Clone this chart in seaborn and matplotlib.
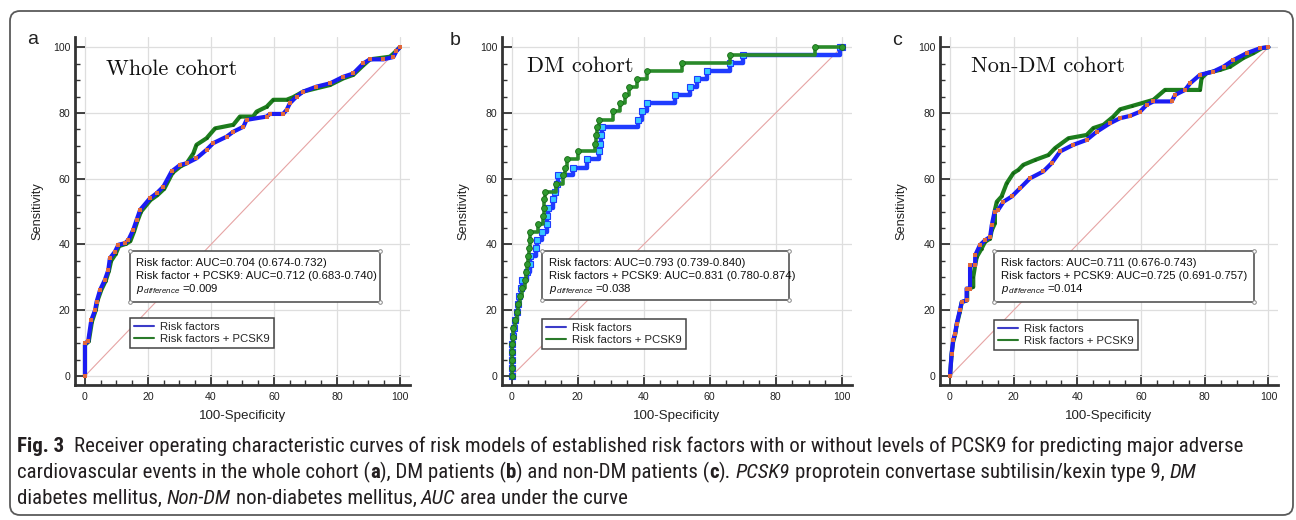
import matplotlib
matplotlib.use("Agg")
import numpy as np
import pandas as pd
import matplotlib.pyplot as plt
import seaborn as sns
from matplotlib import font_manager as fm
from matplotlib.lines import Line2D
from matplotlib.patches import Rectangle, FancyBboxPatch
from matplotlib.ticker import MultipleLocator

# ---------------- data ----------------
panel_letters = ["a", "b", "c"]
panel_titles = ["Whole cohort", "DM cohort", "Non-DM cohort"]
series_names = ["Risk factors", "Risk factors + PCSK9"]
tick_values = [0, 20, 40, 60, 80, 100]
diag_x = [0, 100]
diag_y = [0, 100]

# Panel a (whole cohort)
a_rf_fpr = [0, 0, 1.0, 2.0, 3.2, 3.7, 4.8, 6.3, 7.4, 7.9, 9.5, 10.6, 12.7, 13.8, 15.3, 16.4, 17.5,
            20.6, 22.8, 24.9, 27.5, 30.2, 32.3, 35.4, 38.6, 40.7, 45.0, 47.1, 50.3, 51.3, 57.7, 58.7,
            62.9, 64.0, 65.1, 67.2, 69.3, 73.5, 77.8, 82.0, 85.2, 88.4, 90.5, 94.7, 97.9, 98.9, 100]
a_rf_tpr = [0, 10.0, 10.5, 17.0, 20.0, 22.6, 26.2, 29.2, 32.2, 35.8, 37.8, 39.9, 40.4, 41.4, 44.4, 47.5, 50.5,
            54.0, 55.6, 57.6, 62.2, 64.2, 64.7, 66.2, 68.8, 70.8, 72.8, 74.3, 75.8, 77.9, 78.9, 79.7,
            79.7, 80.9, 83.0, 85.0, 86.5, 88.0, 89.0, 91.0, 92.0, 95.1, 96.3, 96.3, 97.0, 98.8, 100]
a_pk_fpr = [0, 0, 1.2, 2.2, 3.4, 4.0, 5.2, 6.6, 7.6, 8.3, 9.8, 10.8, 13.0, 14.4, 15.6, 16.6, 17.8,
            20.8, 23.0, 25.2, 27.8, 30.4, 32.3, 34.4, 35.4, 38.6, 41.3, 47.1, 49.2, 53.4, 54.5, 57.7,
            59.8, 64.0, 66.1, 69.3, 73.5, 77.8, 82.0, 85.2, 88.4, 90.5, 96.8, 97.9, 100]
a_pk_tpr = [0, 9.5, 10.5, 16.5, 20.0, 23.0, 26.2, 29.0, 32.0, 35.0, 37.2, 39.5, 40.2, 41.0, 44.0, 47.0, 50.0,
            53.5, 55.0, 57.0, 61.8, 63.8, 64.7, 67.7, 70.3, 72.3, 75.3, 76.4, 78.9, 78.9, 80.4, 81.9,
            84.0, 84.0, 84.8, 86.5, 87.5, 88.5, 90.5, 91.6, 94.5, 96.3, 97.1, 98.0, 100]

# Panel b (DM cohort) - step points (x where curve rises to y)
b_rf_fpr = [0, 0, 0, 0, 0, 0.5, 0.8, 1.0, 1.5, 2.0, 2.2, 2.7, 3.0, 4.5, 5.4, 5.6, 7.4, 7.6, 9.1, 10.6,
            10.6, 10.9, 12.6, 13.1, 13.6, 14.1, 18.7, 22.7, 26.3, 26.8, 27.0, 27.3, 38.4, 39.4, 40.9,
            49.5, 54.0, 56.1, 59.1, 66.2, 70.2, 99.5, 100]
b_rf_tpr = [0, 2.4, 4.9, 7.3, 9.8, 12.2, 14.6, 17.1, 19.5, 22.0, 24.4, 26.8, 29.3, 31.7, 34.1, 36.6, 39.0,
            41.5, 43.9, 46.3, 48.8, 51.2, 53.7, 56.1, 58.5, 61.0, 63.4, 65.9, 68.3, 70.7, 73.2, 75.6,
            78.0, 80.5, 82.9, 85.4, 87.8, 90.2, 92.7, 95.1, 97.6, 100, 100]
b_pk_fpr = [0, 0, 0, 0, 0, 0.5, 0.5, 1.0, 1.5, 2.0, 2.5, 3.0, 4.0, 4.3, 4.7, 5.0, 5.3, 5.6, 5.6, 8.0,
            9.6, 9.8, 9.9, 10.0, 13.4, 15.4, 16.2, 16.7, 20.2, 25.3, 25.6, 25.8, 26.3, 30.8, 32.8, 34.3,
            35.4, 38.0, 41.1, 51.5, 66.2, 91.9, 100]
b_pk_tpr = [0, 2.4, 4.9, 7.3, 9.8, 12.0, 14.6, 17.0, 19.5, 22.0, 24.4, 26.8, 29.3, 31.7, 34.1, 36.6, 39.0,
            41.5, 43.9, 46.3, 48.8, 51.2, 53.7, 56.1, 58.5, 61.0, 63.4, 65.9, 68.3, 70.7, 73.2, 75.6,
            78.0, 80.5, 82.9, 85.4, 87.8, 90.2, 92.7, 95.1, 97.6, 100, 100]

# Panel c (non-DM cohort)
c_rf_fpr = [0, 0.5, 1.0, 1.6, 2.1, 3.1, 3.7, 5.2, 5.2, 6.3, 6.3, 7.9, 7.9, 9.4, 11.0, 12.6, 13.1, 14.0,
            15.1, 16.8, 19.4, 22.0, 25.1, 29.3, 31.9, 34.6, 38.7, 42.9, 46.1, 50.3, 53.4, 56.5, 59.7,
            61.8, 63.9, 69.6, 70.7, 73.8, 75.4, 78.5, 82.7, 85.9, 89.0, 93.2, 97.4, 100]
c_rf_tpr = [0, 6.8, 10.9, 12.9, 15.9, 20.0, 22.5, 23.0, 26.6, 26.6, 33.7, 33.7, 36.7, 39.8, 41.3, 42.3,
            45.8, 50.0, 50.5, 53.0, 54.6, 57.1, 60.1, 62.2, 64.7, 68.3, 70.3, 71.8, 74.3, 76.9, 78.4,
            79.1, 80.4, 82.5, 83.5, 83.5, 85.5, 87.0, 89.0, 91.6, 92.6, 94.1, 96.1, 98.2, 99.7, 100]
c_pk_fpr = [0, 0.5, 1.0, 1.6, 2.1, 3.1, 3.7, 5.4, 5.4, 7.3, 7.3, 7.9, 8.4, 9.9, 11.0, 12.6, 13.1, 14.1,
            14.1, 14.7, 16.2, 17.8, 19.9, 21.5, 23.0, 26.7, 30.9, 33.0, 37.2, 42.9, 45.0, 48.2, 51.3,
            53.4, 57.1, 63.9, 67.5, 78.5, 79.0, 80.6, 84.8, 88.0, 92.1, 95.3, 97.9, 100]
c_pk_tpr = [0, 6.5, 10.5, 12.5, 15.5, 19.5, 22.5, 23.0, 26.3, 27.1, 30.1, 33.7, 36.2, 38.7, 40.8, 41.8,
            44.3, 46.4, 50.5, 53.0, 54.6, 58.6, 61.7, 62.7, 64.2, 65.7, 67.2, 69.3, 72.3, 73.3, 75.4,
            76.4, 78.9, 81.1, 82.1, 84.0, 87.0, 87.0, 90.6, 92.1, 93.1, 94.1, 96.7, 98.2, 99.7, 100]

ann_lines = [
    ["Risk factor: AUC=0.704 (0.674-0.732)", "Risk factor + PCSK9: AUC=0.712 (0.683-0.740)", "0.009"],
    ["Risk factors: AUC=0.793 (0.739-0.840)", "Risk factors + PCSK9: AUC=0.831 (0.780-0.874)", "0.038"],
    ["Risk factors: AUC=0.711 (0.676-0.743)", "Risk factors + PCSK9: AUC=0.725 (0.691-0.757)", "0.014"],
]

caption_lines = [
    [("Fig. 3", "b"), ("  Receiver operating characteristic curves of risk models of established risk factors with or without levels of PCSK9 for predicting major adverse", "n")],
    [("cardiovascular events in the whole cohort (", "n"), ("a", "b"), ("), DM patients (", "n"), ("b", "b"),
     (") and non-DM patients (", "n"), ("c", "b"), ("). ", "n"), ("PCSK9", "i"),
     (" proprotein convertase subtilisin/kexin type 9, ", "n"), ("DM", "i")],
    [("diabetes mellitus, ", "n"), ("Non-DM", "i"), (" non-diabetes mellitus, ", "n"), ("AUC", "i"),
     (" area under the curve", "n")],
]

# ---------------- style ----------------
sns.set_style("ticks")
plt.rcParams["font.family"] = ["Liberation Sans", "DejaVu Sans"]
plt.rcParams["mathtext.fontset"] = "custom"
plt.rcParams["mathtext.rm"] = "Liberation Sans"
plt.rcParams["mathtext.it"] = "Liberation Sans:italic"

W, H = 1296, 520
fig = plt.figure(figsize=(W / 100, H / 100), dpi=100)
fig.patch.set_facecolor("white")

# layout in pixels: (left, top, right, bottom), xlim
panels = [
    dict(box=(75, 37, 410, 385), xlim=(-3.17, 103.2), ann=(130, 251, 380, 302), txt_x=136, leg=(130, 318),
         letter=(27, 44), ylab=43, order="gb"),
    dict(box=(502, 37, 852, 385), xlim=(-2.94, 103.1), ann=(541.7, 251, 789, 300), txt_x=549, leg=(541.7, 319),
         letter=(450, 45), ylab=469, order="bg"),
    dict(box=(940, 37, 1278, 385), xlim=(-3.14, 103.0), ann=(994, 251, 1254, 301.7), txt_x=1001, leg=(994, 320),
         letter=(892, 45), ylab=907, order="gb"),
]
series = [
    (a_rf_fpr, a_rf_tpr, a_pk_fpr, a_pk_tpr),
    (b_rf_fpr, b_rf_tpr, b_pk_fpr, b_pk_tpr),
    (c_rf_fpr, c_rf_tpr, c_pk_fpr, c_pk_tpr),
]
YLIM = (-2.74, 103.1)
BLUE = "#1c1cf2"
GREEN = "#1d7d1d"
SPINE = "#333333"

for i, p in enumerate(panels):
    l, t, r, b = p["box"]
    ax = fig.add_axes([l / W, 1 - b / H, (r - l) / W, (b - t) / H])
    aw, ah = r - l, b - t

    def fx(px):
        return (px - l) / aw

    def fy(py):
        return (b - py) / ah

    ax.set_xlim(*p["xlim"])
    ax.set_ylim(*YLIM)
    ax.grid(True, which="major", color="#dedede", lw=0.9)
    ax.set_axisbelow(True)
    for s in ["top", "right"]:
        ax.spines[s].set_visible(False)
    for s in ["left", "bottom"]:
        ax.spines[s].set_color(SPINE)
        ax.spines[s].set_linewidth(2.0)
    ax.set_xticks(tick_values)
    ax.set_yticks(tick_values)
    ax.xaxis.set_minor_locator(MultipleLocator(5))
    ax.yaxis.set_minor_locator(MultipleLocator(5))
    ax.tick_params(which="major", direction="in", length=7, width=1.3, color=SPINE, labelsize=7.6,
                   labelcolor="#222222")
    ax.tick_params(which="minor", direction="in", length=3.5, width=1.0, color=SPINE)
    ax.tick_params(axis="x", which="major", pad=5)
    ax.tick_params(axis="y", which="major", pad=3.5)

    # diagonal reference
    ax.plot(diag_x, diag_y, color="#e6a4a4", lw=0.8, zorder=2)

    rf_x, rf_y, pk_x, pk_y = series[i]
    df_rf = pd.DataFrame({"fpr": rf_x, "tpr": rf_y})
    df_pk = pd.DataFrame({"fpr": pk_x, "tpr": pk_y})

    if i == 1:
        blue_kw = dict(color="#1f3cff", lw=3.2, marker="s", markersize=4.2, markerfacecolor="#36c8ff",
                       markeredgecolor="#1f3cff", markeredgewidth=0.8, drawstyle="steps-post")
        green_kw = dict(color="#2a8a2a", lw=2.6, marker="o", markersize=4.2, markerfacecolor="#2f9a2f",
                        markeredgecolor="#1a6a1a", markeredgewidth=0.6, drawstyle="steps-post")
    else:
        blue_kw = dict(color=BLUE, lw=3.0, marker="s", markersize=2.2, markerfacecolor="#e0673c",
                       markeredgecolor="#e0673c", markeredgewidth=0.0)
        green_kw = dict(color=GREEN, lw=3.0, marker="o", markersize=1.8, markerfacecolor="#0e5e0e",
                        markeredgecolor="#0e5e0e", markeredgewidth=0.0)

    draws = {"b": (df_rf, blue_kw), "g": (df_pk, green_kw)}
    for k, key in enumerate(p["order"]):
        d, kw = draws[key]
        sns.lineplot(data=d, x="fpr", y="tpr", ax=ax, estimator=None, sort=False, legend=False,
                     zorder=3 + k, **kw)

    ax.set_xlabel("100-Specificity", fontsize=9.6, color="#222222")
    ax.set_ylabel("Sensitivity", fontsize=9.2, color="#222222")
    ax.xaxis.set_label_coords(0.5, fy(410.5))
    ax.yaxis.set_label_coords(fx(p["ylab"]), 0.5)

    # cohort title
    ax.text(fx({0: 106, 1: 527.3, 2: 970.7}[i]), fy({0: 75, 1: 72.5, 2: 72.5}[i]), panel_titles[i],
            transform=ax.transAxes, fontfamily="cmr10", fontsize=16, color="#111111",
            ha="left", va="baseline")

    # annotation box
    x0, y0, x1, y1 = p["ann"]
    ax.add_patch(Rectangle((fx(x0), fy(y1)), fx(x1) - fx(x0), fy(y0) - fy(y1), transform=ax.transAxes,
                           facecolor="white", edgecolor="#555555", lw=1.2, zorder=6, clip_on=False))
    for (cx, cy) in [(x0, y0), (x1, y0), (x0, y1), (x1, y1)]:
        ax.plot([fx(cx)], [fy(cy)], transform=ax.transAxes, marker="o", ms=2.6, mfc="white",
                mec="#888888", mew=0.7, zorder=7, clip_on=False)
    lines = ann_lines[i]
    ax.text(fx(p["txt_x"]), fy(265.5), lines[0], transform=ax.transAxes, fontsize=8.2, color="#111111",
            ha="left", va="baseline", zorder=8)
    ax.text(fx(p["txt_x"]), fy(278.5), lines[1], transform=ax.transAxes, fontsize=8.2, color="#111111",
            ha="left", va="baseline", zorder=8)
    ax.text(fx(p["txt_x"]), fy(292.5), r"$p_{\,difference}$ =" + lines[2], transform=ax.transAxes,
            fontsize=8.2, color="#111111", ha="left", va="baseline", zorder=8)

    # legend
    handles = [Line2D([0], [0], color="#3c3cc8", lw=1.5), Line2D([0], [0], color="#2a7a2a", lw=1.5)]
    lg = ax.legend(handles, series_names, loc="upper left", bbox_to_anchor=(fx(p["leg"][0]), fy(p["leg"][1])),
                   borderaxespad=0, frameon=True, fancybox=False, edgecolor="#444444", framealpha=1,
                   fontsize=8.2, handlelength=1.75, handletextpad=0.55, borderpad=0.35, labelspacing=0.15)
    lg.get_frame().set_linewidth(1.1)
    lg.set_zorder(9)

    # panel letter
    fig.text(p["letter"][0] / W, 1 - p["letter"][1] / H, panel_letters[i], fontsize=14, color="#222222",
             ha="left", va="baseline")

# ---------------- caption ----------------
def _is_regular(f):
    w = f.weight
    try:
        w = int(w)
    except Exception:
        w = {"normal": 400, "regular": 400, "book": 400}.get(str(w).lower(), 700)
    return 350 <= w <= 450 and f.style == "normal"


def caption_props():
    entries = fm.fontManager.ttflist
    for c in ["Roboto Condensed", "Liberation Sans Narrow", "DejaVu Sans Condensed", "Open Sans Condensed",
              "Noto Sans Condensed"]:
        if any(f.name == c and _is_regular(f) for f in entries):
            return dict(family=c)
    for fam in ["Roboto", "Open Sans", "Noto Sans", "DejaVu Sans", "Liberation Sans"]:
        for st in ["condensed", "semi-condensed"]:
            if any(f.name == fam and f.stretch == st and _is_regular(f) for f in entries):
                return dict(family=fam, stretch=st)
    return dict(family="Liberation Sans")


cprops = caption_props()
renderer = fig.canvas.get_renderer()


def run_width(txt, style, size):
    kw = dict(cprops)
    kw["fontweight"] = "bold" if style == "b" else "normal"
    kw["fontstyle"] = "italic" if style == "i" else "normal"
    t = fig.text(0, 0, txt, fontsize=size, **kw)
    w = t.get_window_extent(renderer).width
    t.remove()
    return w, kw


def space_w(size):
    w1, _ = run_width("x x", "n", size)
    w2, _ = run_width("xx", "n", size)
    return w1 - w2


def layout_line(runs, size):
    pieces = []
    sp = space_w(size)
    x = 0.0
    for txt, style in runs:
        lead = len(txt) - len(txt.lstrip(" "))
        trail = len(txt) - len(txt.rstrip(" "))
        core = txt.strip(" ")
        x += lead * sp
        w, kw = run_width(core, style, size)
        pieces.append((x, core, kw))
        x += w + trail * sp
    return pieces, x


base = 10.0
_, w_line1 = layout_line(caption_lines[0], base)
cap_size = max(8.0, min(15.0, base * (1283 - 17) / w_line1))
baselines = [452, 478, 504]
for runs, yb in zip(caption_lines, baselines):
    pieces, _ = layout_line(runs, cap_size)
    for x, core, kw in pieces:
        fig.text((17 + x) / W, 1 - yb / H, core, fontsize=cap_size, color="#231f20", ha="left",
                 va="baseline", **kw)

# outer frame
frame = FancyBboxPatch((10, 5), 1283, 504, boxstyle="round,pad=0,rounding_size=10", transform=None,
                       facecolor="none", edgecolor="#5a5a5a", lw=1.3)
fig.add_artist(frame)

fig.savefig("out.png", dpi=100, facecolor="white")
